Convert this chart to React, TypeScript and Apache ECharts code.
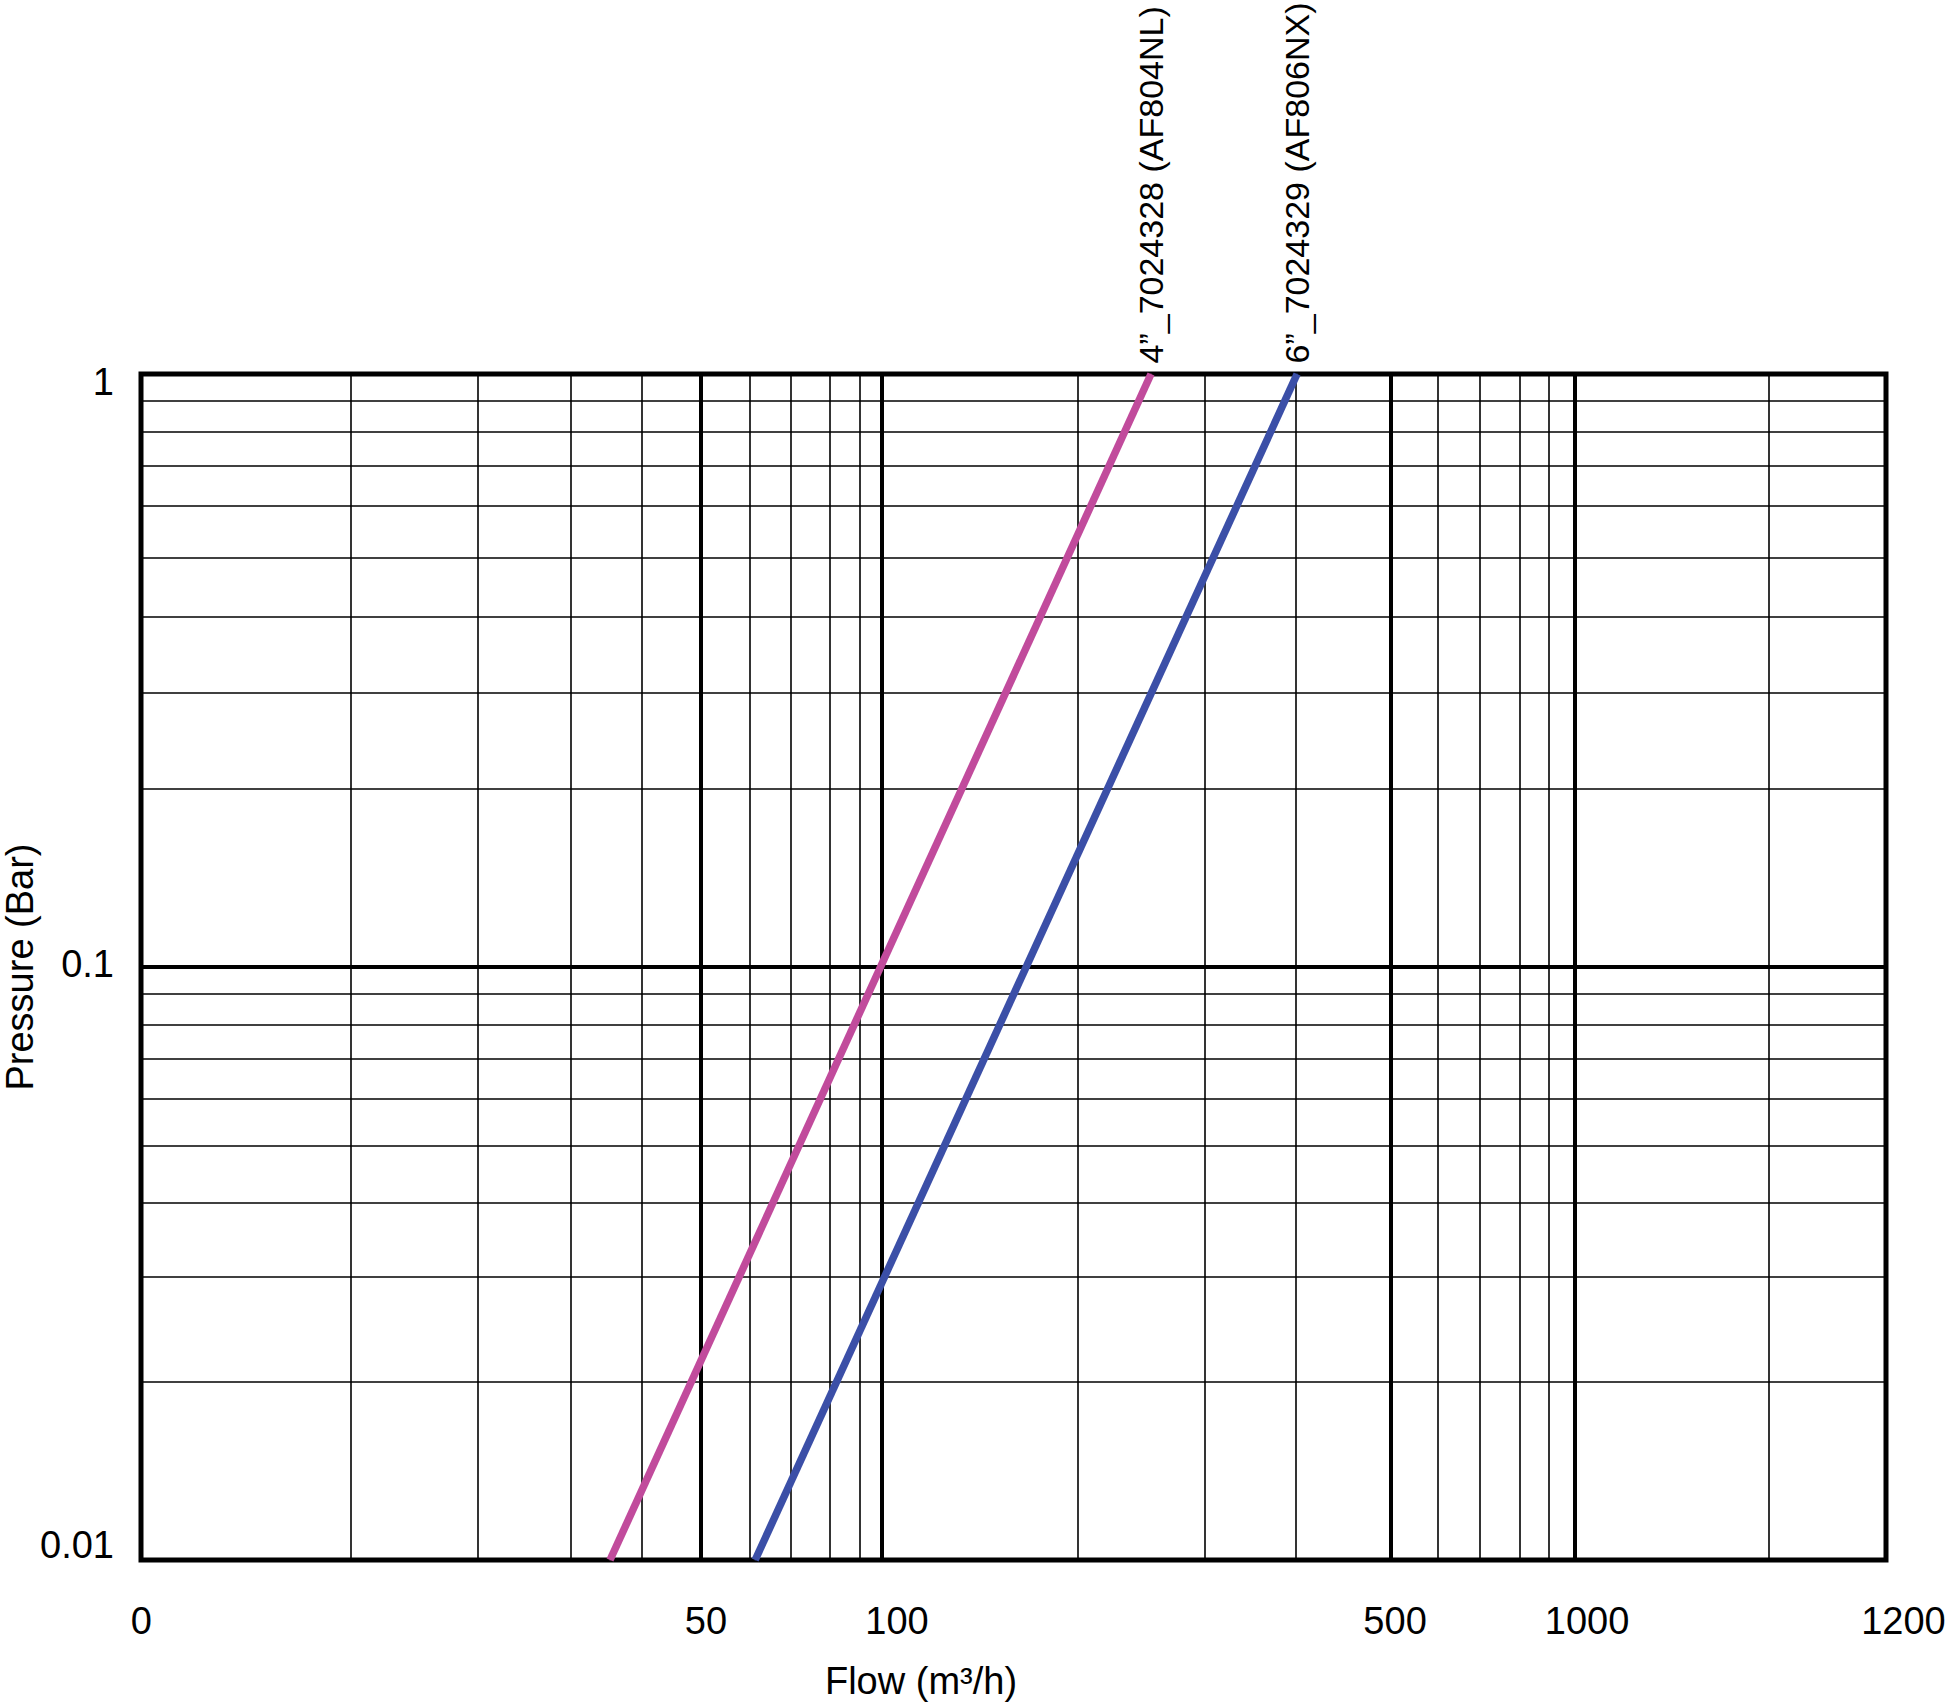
import React, { useEffect, useRef } from "react";
import * as echarts from "echarts";

// Flow axis (log scale calibrated on the 100 and 1000 grid lines)
const xMin = 8.524;
const xMax = 2810;
const xLabelValues = [8.53, 55.7, 105.1, 549.9, 1040.7, 2805];
const xLabelTexts = ["0", "50", "100", "500", "1000", "1200"];
const xThinGrid = [17.13, 26.13, 35.58, 45.04, 64.49, 73.89, 84.14, 92.95, 191.8, 292.4, 395.7, 634.3, 729.3, 832.9, 917.2, 1905];
const xThickGrid = [54.81, 100, 542.6, 1000];

// Pressure axis (log)
const yMin = 0.01;
const yMax = 1;
const yLabelValues = [0.969, 0.1011, 0.01059];
const yLabelTexts = ["1", "0.1", "0.01"];
const yThinGrid = [0.902, 0.8025, 0.7017, 0.5969, 0.4947, 0.3926, 0.2938, 0.1962, 0.08703, 0.07805, 0.06807, 0.05791, 0.048, 0.03812, 0.02845, 0.01878];
const yThickGrid = [0.1027];

// Curves
const pinkName = "4”_7024328 (AF804NL)";
const pinkFlow = [40.5, 244.4];
const pinkPressure = [0.01, 1];
const blueName = "6”_7024329 (AF806NX)";
const blueFlow = [65.6, 397.1];
const bluePressure = [0.01, 1];

const FONT = "'Liberation Sans', Arial, Helvetica, sans-serif";
const TICK_SIZE = 38;

function nearestIndex(values: number[], value: number) {
  let best = 0;
  let bestD = Infinity;
  values.forEach((v, i) => {
    const d = Math.abs(Math.log10(v) - Math.log10(value));
    if (d < bestD) {
      bestD = d;
      best = i;
    }
  });
  return best;
}

function buildCurve(flow: number[], pressure: number[]) {
  return flow.map((f, i) => {
    const last = i === flow.length - 1;
    return {
      value: [f, pressure[i]],
      label: last
        ? {
            show: true,
            position: "top",
            distance: 10,
            rotate: 90,
            align: "left",
            verticalAlign: "middle",
            fontSize: 34,
            color: "#000",
            fontFamily: FONT,
          }
        : { show: false },
    };
  });
}

export default function App() {
  const ref = useRef<HTMLDivElement>(null);

  useEffect(() => {
    document.body.style.margin = "0";
    if (!ref.current) return;
    const chart = echarts.init(ref.current, null, { renderer: "svg" });

    const thin = { width: 1.6, color: "#000", type: "solid" };
    const thick = { width: 4, color: "#000", type: "solid" };
    const gridLines = [
      ...xThinGrid.map((v) => ({ xAxis: v, lineStyle: thin })),
      ...xThickGrid.map((v) => ({ xAxis: v, lineStyle: thick })),
      ...yThinGrid.map((v) => ({ yAxis: v, lineStyle: thin })),
      ...yThickGrid.map((v) => ({ yAxis: v, lineStyle: thick })),
    ];

    const tickText = { fontSize: TICK_SIZE, color: "#000", fontFamily: FONT };

    const option: any = {
      animation: false,
      backgroundColor: "#fff",
      textStyle: { fontFamily: FONT, color: "#000" },
      grid: {
        left: 141,
        right: 60,
        top: 374,
        bottom: 145,
        containLabel: false,
        outerBoundsMode: "none",
        show: true,
        borderColor: "#000",
        borderWidth: 5,
        backgroundColor: "#fff",
      },
      xAxis: {
        type: "log",
        logBase: 10,
        min: xMin,
        max: xMax,
        name: "Flow (m³/h)",
        nameLocation: "middle",
        nameGap: 102,
        nameMoveOverlap: false,
        nameTextStyle: { fontSize: 38, color: "#000", fontFamily: FONT, padding: [0, 185, 0, 0] },
        axisLine: { show: false },
        axisTick: { show: false },
        splitLine: { show: false },
        minorTick: { show: false },
        axisLabel: {
          customValues: xLabelValues,
          ...tickText,
          margin: 42,
          formatter: (value: number) => {
            const i = nearestIndex(xLabelValues, value);
            return i === xLabelValues.length - 1 ? `{edge|${xLabelTexts[i]}}` : xLabelTexts[i];
          },
          rich: {
            edge: { ...tickText, padding: [0, 0, 0, 36] },
          },
        },
      },
      yAxis: {
        type: "log",
        logBase: 10,
        min: yMin,
        max: yMax,
        name: "Pressure (Bar)",
        nameLocation: "middle",
        nameRotate: 90,
        nameGap: 102,
        nameMoveOverlap: false,
        nameTextStyle: { fontSize: 38, color: "#000", fontFamily: FONT },
        axisLine: { show: false },
        axisTick: { show: false },
        splitLine: { show: false },
        axisLabel: {
          customValues: yLabelValues,
          ...tickText,
          margin: 27,
          formatter: (value: number) => yLabelTexts[nearestIndex(yLabelValues, value)],
        },
      },
      series: [
        {
          name: "grid",
          type: "line",
          data: [],
          silent: true,
          z: 1,
          markLine: {
            silent: true,
            z: 1,
            symbol: ["none", "none"],
            label: { show: false },
            lineStyle: { type: "solid", color: "#000" },
            emphasis: { disabled: true },
            animation: false,
            data: gridLines,
          },
        },
        {
          name: pinkName,
          type: "line",
          z: 10,
          clip: false,
          symbol: "circle",
          symbolSize: 1,
          showSymbol: true,
          itemStyle: { color: "#c14b9c" },
          lineStyle: { color: "#c14b9c", width: 7.5 },
          label: { formatter: () => pinkName },
          data: buildCurve(pinkFlow, pinkPressure),
        },
        {
          name: blueName,
          type: "line",
          z: 10,
          clip: false,
          symbol: "circle",
          symbolSize: 1,
          showSymbol: true,
          itemStyle: { color: "#3b4fa7" },
          lineStyle: { color: "#3b4fa7", width: 7.5 },
          label: { formatter: () => blueName },
          data: buildCurve(blueFlow, bluePressure),
        },
      ],
    };

    chart.setOption(option);
    return () => chart.dispose();
  }, []);

  return <div ref={ref} style={{ width: 1946, height: 1705 }} />;
}
